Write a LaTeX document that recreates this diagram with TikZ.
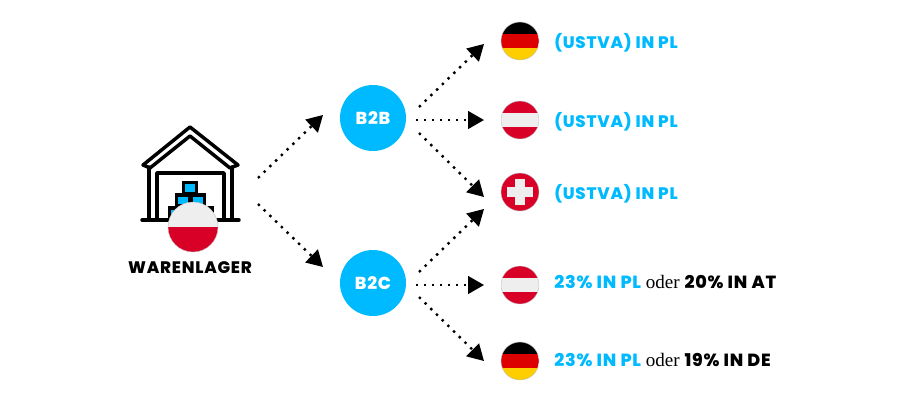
\documentclass[tikz,border=0pt]{standalone}
\usepackage{fontspec}
\usepackage{tikz}
\usetikzlibrary{arrows.meta}
\setmainfont{Liberation Serif}
\newfontfamily\headfont[LetterSpace=4.5,BoldFont={Poppins ExtraBold}]{Poppins}
\definecolor{skyb}{HTML}{00BAFF}
\definecolor{flaggrey}{HTML}{EEEEEE}
\definecolor{flagred}{HTML}{D80027}
\definecolor{dered}{HTML}{DD0000}
\definecolor{deyellow}{HTML}{FFCE00}
\newcommand{\bands}[3]{%
  \fill[#1] (path picture bounding box.north west) rectangle ([yshift=-9.2pt]path picture bounding box.north east);
  \fill[#2] ([yshift=-9.2pt]path picture bounding box.north west) rectangle ([yshift=9.2pt]path picture bounding box.south east);
  \fill[#3] ([yshift=9.2pt]path picture bounding box.south west) rectangle (path picture bounding box.south east);}
\tikzset{
  flagbase/.style={circle, minimum size=28.5pt, inner sep=0pt, draw=black!25, line width=0.3pt},
  flagde/.style={flagbase, path picture={\bands{black}{dered}{deyellow}}},
  flagat/.style={flagbase, path picture={\bands{flagred}{flaggrey}{flagred}}},
  flagch/.style={flagbase, fill=flagred},
  hub/.style={circle, fill=skyb, minimum size=49.5pt, inner sep=0pt, text=white, font=\headfont\bfseries\fontsize{13}{14}\selectfont},
  label/.style={anchor=west, inner sep=0pt, font=\fontsize{14.3}{16}\selectfont},
  flow/.style={line width=1.8pt, dash pattern=on 1.8pt off 4.2pt, -{Triangle[length=12pt,width=13.3pt]}},
  wall/.style={line width=2.6pt, line cap=round, line join=round},
  crate/.style={draw=black, line width=2.6pt, fill=skyb, minimum width=9.4pt, minimum height=8.2pt, inner sep=0pt},
}
\newcommand{\bl}[1]{{\headfont\bfseries\fontsize{12.5}{16}\selectfont\color{skyb}#1}}
\newcommand{\blw}[1]{{\headfont\bfseries\fontsize{13.2}{16}\selectfont\color{skyb}#1}}
\newcommand{\bkw}[1]{{\headfont\bfseries\fontsize{13.2}{16}\selectfont\color{black}#1}}
\begin{document}
\begin{tikzpicture}[x=0.75pt, y=-0.75pt]
    \useasboundingbox (0,0) rectangle (900,401);

    % warehouse
    \draw[wall] (143,165) -- (190,127) -- (238,165) -- (230,168) -- (190,136) -- (150,168) -- cycle;
    \draw[wall] (149,167) -- (149,220);
    \draw[wall] (232,167) -- (232,220);
    \draw[wall] (157,220) -- (157,173) -- (224,173) -- (224,220);
    \draw[wall] (142,220) -- (239,220);
    \node[crate] (boxa) at (190,188) {};
    \node[crate] (boxb) at (183,200.5) {};
    \node[crate] (boxc) at (198,200.5) {};
    \node[crate] (boxd) at (175.5,213.5) {};
    \node[crate] (boxe) at (205.5,213.5) {};

    \node[flagbase, minimum size=37.5pt, path picture={
      \fill[flaggrey] (path picture bounding box.north west) rectangle (path picture bounding box.east);
      \fill[flagred] (path picture bounding box.west) rectangle (path picture bounding box.south east);}] (pl) at (193,227) {};
    \node[anchor=center, inner sep=0pt, font=\headfont\bfseries\fontsize{12.5}{16}\selectfont] (lager) at (190,268) {WARENLAGER};

    % hubs
    \node[hub] (btob) at (373,118) {B2B};
    \node[hub] (btoc) at (373,283) {B2C};

    % flags
    \node[flagde] (dea) at (520,41) {};
    \node[flagat] (ata) at (520,120) {};
    \node[flagch] (cha) at (520,192) {};
    \node[flagat] (atb) at (520,285) {};
    \node[flagde] (deb) at (520,361) {};
    \fill[flaggrey] (507,187) rectangle (533,197);
    \fill[flaggrey] (515,179) rectangle (525,205);

    % labels
    \node[label] (ta) at (554,42.5) {\bl{(USTVA) IN PL}};
    \node[label] (tb) at (554,121.5) {\bl{(USTVA) IN PL}};
    \node[label] (tc) at (554,193.5) {\bl{(USTVA) IN PL}};
    \node[label] (td) at (554,282) {\blw{23\% IN PL} oder \bkw{20\% IN AT}};
    \node[label] (te) at (554,360) {\blw{23\% IN PL} oder \bkw{19\% IN DE}};

    % free ends of the arrows
    \coordinate (wa) at (258,178);
    \coordinate (wb) at (258,204);
    \coordinate (wat) at (323,115);
    \coordinate (wbt) at (323,267);
    \coordinate (ba) at (419,107);
    \coordinate (bb) at (416,120);
    \coordinate (bc) at (419,133);
    \coordinate (bat) at (484,44);
    \coordinate (bbt) at (484,120);
    \coordinate (bct) at (484,197);
    \coordinate (ca) at (419,272);
    \coordinate (cb) at (416,285);
    \coordinate (cc) at (419,297);
    \coordinate (cat) at (484,209);
    \coordinate (cbt) at (484,285);
    \coordinate (cct) at (484,361);

    \draw[flow] (wa) -- (wat);
    \draw[flow] (wb) -- (wbt);
    \draw[flow] (ba) -- (bat);
    \draw[flow] (bb) -- (bbt);
    \draw[flow] (bc) -- (bct);
    \draw[flow] (ca) -- (cat);
    \draw[flow] (cb) -- (cbt);
    \draw[flow] (cc) -- (cct);
\end{tikzpicture}
\end{document}
